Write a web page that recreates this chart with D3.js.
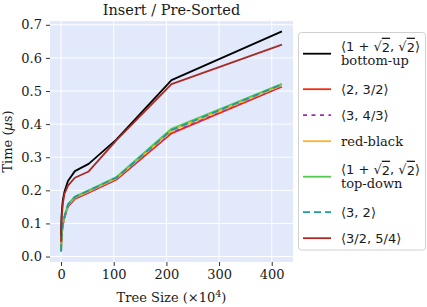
<!DOCTYPE html>
<html lang="en">
<head>
<meta charset="UTF-8">
<title>Insert / Pre-Sorted</title>
<script src="https://d3js.org/d3.v7.min.js"></script>
<style>
    body { margin: 0; background: white; }
    text { font-family: "DejaVu Serif", serif; fill: #1a1a1a; }
    .math { font-family: "DejaVu Sans", sans-serif; }
    .ov { text-decoration: overline; }
</style>
</head>
<body>
<svg id="chart"></svg>
<script>
// tree sizes in units of 10^4 (powers of two)
var sizes = [0.1024, 0.2048, 0.4096, 0.8192, 1.6384, 3.2768, 6.5536, 13.1072, 26.2144, 52.4288, 104.8576, 209.7152, 419.4304];

var bottomUp   = [0.060, 0.080, 0.100, 0.120, 0.140, 0.170, 0.196, 0.228, 0.258, 0.280, 0.353, 0.533, 0.680];
var twoThree   = [0.015, 0.025, 0.035, 0.050, 0.070, 0.095, 0.118, 0.151, 0.174, 0.193, 0.232, 0.372, 0.513];
var threeFour  = [0.016, 0.026, 0.036, 0.051, 0.071, 0.096, 0.119, 0.152, 0.175, 0.194, 0.233, 0.375, 0.515];
var redBlack   = [0.015, 0.026, 0.037, 0.052, 0.072, 0.098, 0.121, 0.155, 0.178, 0.197, 0.236, 0.380, 0.518];
var topDown    = [0.016, 0.027, 0.038, 0.053, 0.073, 0.099, 0.122, 0.158, 0.181, 0.200, 0.240, 0.386, 0.522];
var threeTwo   = [0.016, 0.027, 0.037, 0.052, 0.072, 0.098, 0.121, 0.157, 0.180, 0.199, 0.238, 0.382, 0.520];
var threeHalf  = [0.045, 0.060, 0.080, 0.100, 0.125, 0.160, 0.190, 0.214, 0.238, 0.257, 0.351, 0.521, 0.640];

var xTicks = [0, 100, 200, 300, 400];
var yTicks = [0.0, 0.1, 0.2, 0.3, 0.4, 0.5, 0.6, 0.7];

var sqrtLabel = '⟨1 + √<tspan class="ov">2</tspan>, √<tspan class="ov">2</tspan>⟩';
var series = [
    { lines: [sqrtLabel, "bottom-up"], values: bottomUp, color: "#000000", dash: null },
    { lines: ["⟨2, 3/2⟩"], values: twoThree, color: "#f52a10", dash: null },
    { lines: ["⟨3, 4/3⟩"], values: threeFour, color: "#9a2fb0", dash: "4,4.5" },
    { lines: ["red-black"], values: redBlack, color: "#ffb22e", dash: null },
    { lines: [sqrtLabel, "top-down"], values: topDown, color: "#55c850", dash: null },
    { lines: ["⟨3, 2⟩"], values: threeTwo, color: "#1f9a9e", dash: "7,4" },
    { lines: ["⟨3/2, 5/4⟩"], values: threeHalf, color: "#a82a24", dash: null }
];

var W = 427, H = 307;
var plot = { left: 50, right: 293, top: 21, bottom: 262 };

var svg = d3.select("#chart").attr("width", W).attr("height", H);

var x = d3.scaleLinear().domain([-21, 440.4]).range([plot.left, plot.right]);
var y = d3.scaleLinear().domain([-0.0165, 0.7115]).range([plot.bottom, plot.top]);

svg.append("rect")
    .attr("x", plot.left).attr("y", plot.top)
    .attr("width", plot.right - plot.left).attr("height", plot.bottom - plot.top)
    .attr("fill", "#e1e9fb");

// grid
var grid = svg.append("g").attr("stroke", "white").attr("stroke-width", 1);
grid.selectAll(".gx").data(xTicks).enter().append("line")
    .attr("x1", d => x(d)).attr("x2", d => x(d))
    .attr("y1", plot.top).attr("y2", plot.bottom);
grid.selectAll(".gy").data(yTicks).enter().append("line")
    .attr("y1", d => y(d)).attr("y2", d => y(d))
    .attr("x1", plot.left).attr("x2", plot.right);

// axes
var xAxis = svg.append("g")
    .attr("transform", "translate(0," + plot.bottom + ")")
    .call(d3.axisBottom(x).tickValues(xTicks).tickFormat(d3.format("d")).tickSize(4).tickPadding(4));
var yAxis = svg.append("g")
    .attr("transform", "translate(" + plot.left + ",0)")
    .call(d3.axisLeft(y).tickValues(yTicks).tickFormat(d3.format(".1f")).tickSize(4).tickPadding(4));
[xAxis, yAxis].forEach(function (a) {
    a.select(".domain").remove();
    a.selectAll(".tick line").attr("stroke", "#333").attr("stroke-width", 1);
    a.selectAll(".tick text").style("font-family", "DejaVu Serif").style("font-size", "13px").attr("fill", "#1a1a1a");
});

// lines
var line = d3.line()
    .x((d, i) => x(sizes[i]))
    .y(d => y(d));

svg.append("g").selectAll("path").data(series).enter().append("path")
    .attr("d", d => line(d.values))
    .attr("fill", "none")
    .attr("stroke", d => d.color)
    .attr("stroke-width", 1.8)
    .attr("stroke-dasharray", d => d.dash)
    .attr("stroke-linejoin", "round");

// title and labels
svg.append("text").attr("x", (plot.left + plot.right) / 2).attr("y", 15)
    .attr("text-anchor", "middle").style("font-size", "14.5px").text("Insert / Pre-Sorted");

svg.append("text").attr("x", (plot.left + plot.right) / 2).attr("y", 302)
    .attr("text-anchor", "middle").style("font-size", "13px")
    .html('Tree Size (×10<tspan dy="-5" style="font-size:9.5px">4</tspan><tspan dy="5">)</tspan>');

svg.append("text")
    .attr("transform", "translate(12," + ((plot.top + plot.bottom) / 2) + ") rotate(-90)")
    .attr("text-anchor", "middle").style("font-size", "13px")
    .html('Time (<tspan class="math" font-style="italic">μ</tspan>s)');

// legend
var leg = svg.append("g");
leg.append("rect")
    .attr("x", 298.5).attr("y", 32.5).attr("width", 127).attr("height", 217.5)
    .attr("rx", 3).attr("fill", "white").attr("stroke", "#d0d0d0");

var cursor = 31.2;
series.forEach(function (s) {
    var h = 26 + (s.lines.length - 1) * 19;
    var cy = cursor + h / 2;
    cursor += h;
    leg.append("line")
        .attr("x1", 303).attr("x2", 331).attr("y1", cy).attr("y2", cy)
        .attr("stroke", s.color).attr("stroke-width", 1.8)
        .attr("stroke-dasharray", s.dash);
    s.lines.forEach(function (t, j) {
        leg.append("text")
            .attr("class", t.indexOf("⟨") >= 0 ? "math" : null)
            .attr("x", 341)
            .attr("y", cy + (j - (s.lines.length - 1) / 2) * 14)
            .attr("dominant-baseline", "central")
            .style("font-size", "13px")
            .html(t);
    });
});
</script>
</body>
</html>
